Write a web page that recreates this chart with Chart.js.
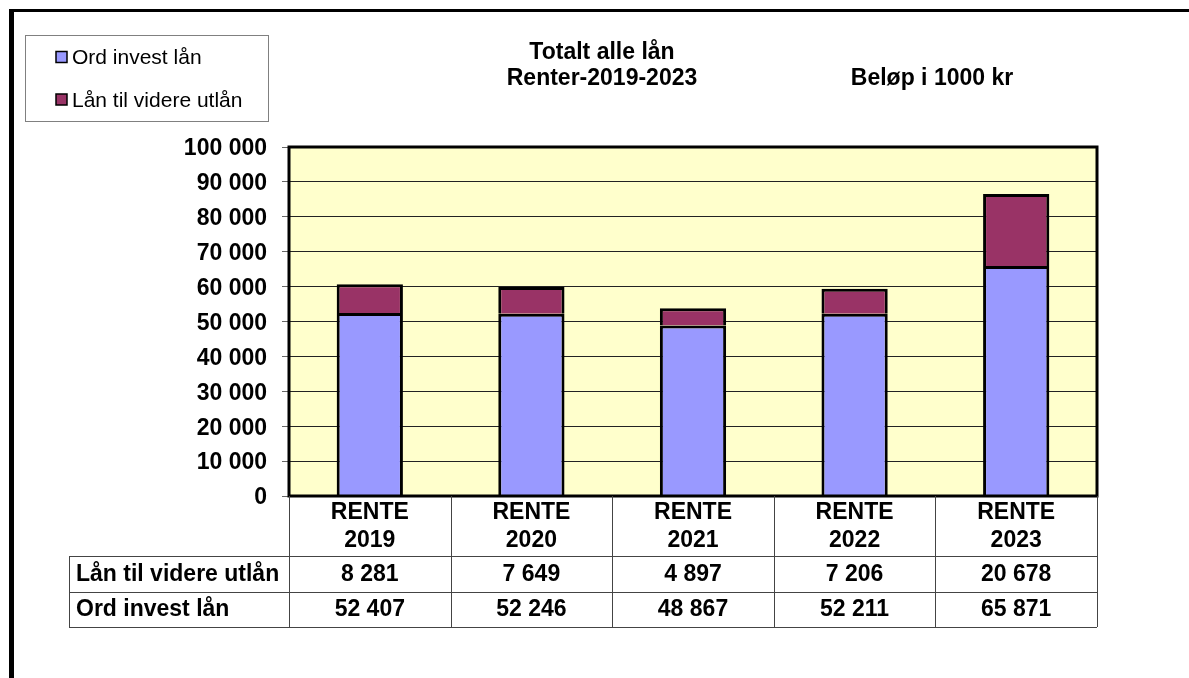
<!DOCTYPE html>
<html>
<head>
<meta charset="utf-8">
<script src="https://cdn.jsdelivr.net/npm/chart.js@4/dist/chart.umd.min.js"></script>
<style>
  html, body { margin: 0; padding: 0; background: #ffffff; }
  #wrap { width: 1189px; height: 678px; position: relative; }
</style>
</head>
<body>
<div id="wrap"><canvas id="c" width="1189" height="678"></canvas></div>
<script>
// ---- data ----
const categories = [["RENTE", "2019"], ["RENTE", "2020"], ["RENTE", "2021"], ["RENTE", "2022"], ["RENTE", "2023"]];
const ordInvestLan = [52407, 52246, 48867, 52211, 65871];
const lanVidereUtlan = [8281, 7649, 4897, 7206, 20678];
const seriesNames = ["Ord invest lån", "Lån til videre utlån"];
const titleLines = ["Totalt alle lån", "Renter-2019-2023"];
const subTitle = "Beløp i 1000 kr";
const yTicks = { min: 0, max: 100000, step: 10000 };

const colBlue = "#9999FF";
const colMaroon = "#993366";
const FONT = "'Liberation Sans', Arial, sans-serif";

function fmt(n) {
  return String(n).replace(/\B(?=(\d{3})+(?!\d))/g, " ");
}

const decor = {
  id: "decor",
  beforeDraw(chart) {
    const ctx = chart.ctx, a = chart.chartArea;
    ctx.save();
    ctx.fillStyle = "#ffffff";
    ctx.fillRect(0, 0, chart.width, chart.height);
    ctx.fillStyle = "#FFFFCC";
    ctx.fillRect(a.left, a.top, a.right - a.left, a.bottom - a.top);
    ctx.fillStyle = "#000";
    ctx.fillRect(9, 9, chart.width - 9, 3);
    ctx.fillRect(9, 9, 5, chart.height - 9);
    ctx.restore();
  },
  afterDatasetsDraw(chart) {
    const ctx = chart.ctx, a = chart.chartArea;
    ctx.save();
    ctx.strokeStyle = "#000";
    ctx.lineWidth = 3;
    ctx.strokeRect(a.left, a.top, a.right - a.left, a.bottom - a.top);
    ctx.restore();
  },
  afterDraw(chart) {
    const ctx = chart.ctx, a = chart.chartArea;
    const xs = chart.scales.x;
    ctx.save();
    ctx.fillStyle = "#000";
    ctx.textAlign = "center";
    ctx.textBaseline = "middle";
    ctx.font = "bold 23px " + FONT;
    ctx.fillText(titleLines[0], 602, 53);
    ctx.fillText(titleLines[1], 602, 79);
    ctx.fillText(subTitle, 932, 79);

    // legend
    ctx.strokeStyle = "#808080";
    ctx.lineWidth = 1;
    ctx.strokeRect(25.5, 35.5, 243, 86);
    const ds = chart.data.datasets;
    const legY = [57.5, 100];
    ctx.font = "21px " + FONT;
    ctx.textAlign = "left";
    ds.forEach((d, i) => {
      ctx.fillStyle = d.backgroundColor;
      ctx.fillRect(56, legY[i] - 6, 11, 11);
      ctx.strokeStyle = "#000";
      ctx.lineWidth = 1.5;
      ctx.strokeRect(56, legY[i] - 6, 11, 11);
      ctx.fillStyle = "#000";
      ctx.fillText(d.label, 72, legY[i] + 1);
    });

    // data table
    const n = categories.length;
    const cw = (a.right - a.left) / n;
    const tableLeft = 69;
    const rowTop = [a.bottom, 556, 592, 627];
    ctx.strokeStyle = "#444";
    ctx.lineWidth = 1;
    for (let i = 0; i <= n; i++) {
      const x = Math.round(a.left + i * cw) + 0.5;
      ctx.beginPath();
      ctx.moveTo(x, a.bottom);
      ctx.lineTo(x, rowTop[3]);
      ctx.stroke();
    }
    ctx.beginPath();
    ctx.moveTo(tableLeft + 0.5, rowTop[1]);
    ctx.lineTo(tableLeft + 0.5, rowTop[3]);
    ctx.stroke();
    for (let r = 1; r <= 3; r++) {
      ctx.beginPath();
      ctx.moveTo(tableLeft, rowTop[r] + 0.5);
      ctx.lineTo(a.right, rowTop[r] + 0.5);
      ctx.stroke();
    }
    ctx.fillStyle = "#000";
    ctx.font = "bold 23px " + FONT;
    ctx.textBaseline = "middle";
    ctx.textAlign = "center";
    for (let i = 0; i < n; i++) {
      const cx = xs.getPixelForValue(i);
      ctx.fillText(categories[i][0], cx, 513);
      ctx.fillText(categories[i][1], cx, 541);
    }
    const rows = [ds[1], ds[0]];
    const rowY = [575, 610];
    rows.forEach((d, r) => {
      ctx.textAlign = "left";
      ctx.fillText(d.label, 76, rowY[r]);
      ctx.textAlign = "center";
      d.data.forEach((v, i) => {
        ctx.fillText(fmt(v), xs.getPixelForValue(i), rowY[r]);
      });
    });
    ctx.restore();
  }
};

new Chart(document.getElementById("c"), {
  type: "bar",
  data: {
    labels: categories,
    datasets: [
      { label: seriesNames[0], data: ordInvestLan, backgroundColor: colBlue, borderColor: "#000", borderWidth: 3 },
      { label: seriesNames[1], data: lanVidereUtlan, backgroundColor: colMaroon, borderColor: "#000", borderWidth: 3 }
    ]
  },
  options: {
    responsive: false,
    animation: false,
    devicePixelRatio: 1,
    layout: { padding: { left: 0, top: 147, right: 92, bottom: 182 } },
    datasets: { bar: { categoryPercentage: 1, barPercentage: 0.41 } },
    plugins: { legend: { display: false }, title: { display: false }, tooltip: { enabled: false } },
    scales: {
      x: { stacked: true, display: false },
      y: {
        stacked: true,
        min: yTicks.min,
        max: yTicks.max,
        afterFit(s) { s.width = 289; },
        border: { display: false },
        grid: { color: "#222", lineWidth: 1, drawTicks: true, tickLength: 7, tickColor: "#666" },
        ticks: {
          stepSize: yTicks.step,
          padding: 15,
          labelOffset: 2,
          color: "#000",
          font: { family: FONT, size: 23, weight: "bold" },
          callback: (v) => fmt(v)
        }
      }
    }
  },
  plugins: [decor]
});
</script>
</body>
</html>
